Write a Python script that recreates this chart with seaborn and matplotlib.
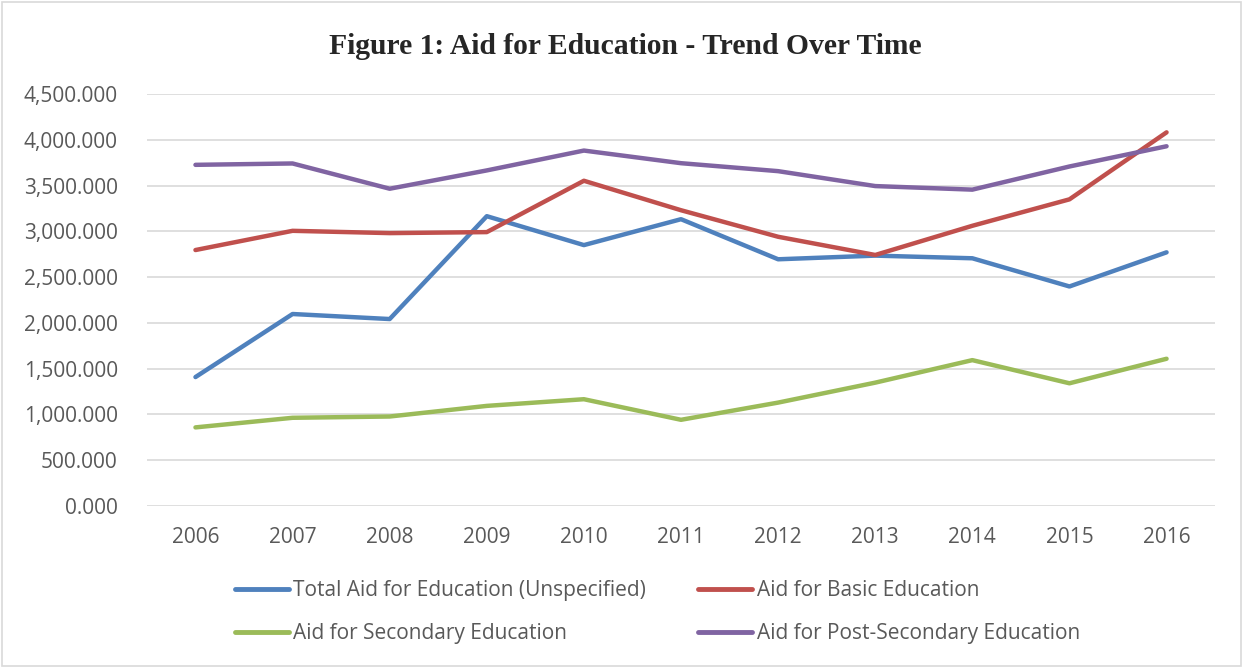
import pandas as pd
import seaborn as sns
import matplotlib.pyplot as plt
from matplotlib.patches import Rectangle
from matplotlib.ticker import FuncFormatter

years = ["2006", "2007", "2008", "2009", "2010", "2011", "2012", "2013", "2014", "2015", "2016"]
total_unspecified = [1409, 2098, 2043, 3167, 2851, 3134, 2696, 2736, 2707, 2399, 2772]
basic = [2797, 3007, 2982, 2993, 3554, 3232, 2942, 2743, 3062, 3351, 4083]
secondary = [859, 964, 978, 1094, 1167, 942, 1130, 1348, 1594, 1341, 1609]
post_secondary = [3728, 3743, 3467, 3667, 3884, 3746, 3659, 3496, 3457, 3710, 3931]

series_names = [
    "Total Aid for Education (Unspecified)",
    "Aid for Basic Education",
    "Aid for Secondary Education",
    "Aid for Post-Secondary Education",
]
colors = ["#4F81BD", "#C0504D", "#9BBB59", "#8064A2"]

frames = []
for name, vals in zip(series_names, [total_unspecified, basic, secondary, post_secondary]):
    frames.append(pd.DataFrame({"year": years, "value": vals, "series": name}))
df = pd.concat(frames)
df["pos"] = df["year"].map({y: i for i, y in enumerate(years)})

sns.set_style("white")
plt.rcParams["font.family"] = ["Open Sans", "DejaVu Sans"]

fig = plt.figure(figsize=(12.45, 6.68), dpi=100)
ax = fig.add_axes([0.118, 0.2425, 0.858, 0.6165])

sns.lineplot(data=df, x="pos", y="value", hue="series", hue_order=series_names,
             palette=colors, linewidth=3.2, ax=ax, legend=False, sort=False)

ax.set_xlim(-0.5, len(years) - 0.5)
ax.set_ylim(0, 4500)
ax.set_yticks(range(0, 4501, 500))
ax.yaxis.set_major_formatter(FuncFormatter(lambda v, p: f"{v:,.3f}"))
ax.set_xticks(range(len(years)))
ax.set_xticklabels(years)
ax.tick_params(axis="both", length=0, labelsize=15, colors="#595959")
ax.tick_params(axis="y", pad=21)
ax.tick_params(axis="x", pad=15)
ax.grid(axis="y", color="#D9D9D9", linewidth=1.2)
ax.set_axisbelow(True)
for s in ax.spines.values():
    s.set_visible(False)
ax.set_xlabel("")
ax.set_ylabel("")

fig.text(0.502, 0.931, "Figure 1: Aid for Education - Trend Over Time",
         ha="center", va="center", fontsize=21.3, fontweight="bold",
         family="Liberation Serif")

# legend filled column by column, so reorder to read row by row
order = [0, 2, 1, 3]
handles = [plt.Line2D([], [], color=colors[i], linewidth=3.5) for i in order]
labels = [series_names[i] for i in order]
fig.legend(handles, labels, loc="center", ncol=2, frameon=False,
           bbox_to_anchor=(0.528, 0.084), fontsize=15, handlelength=2.6,
           handletextpad=0.2, columnspacing=2.5, labelspacing=1.05,
           labelcolor="#595959")

fig.add_artist(Rectangle((0.002, 0.003), 0.995, 0.994, transform=fig.transFigure,
                         fill=False, edgecolor="#D9D9D9", linewidth=1.2))

fig.savefig("out.png", dpi=100)
